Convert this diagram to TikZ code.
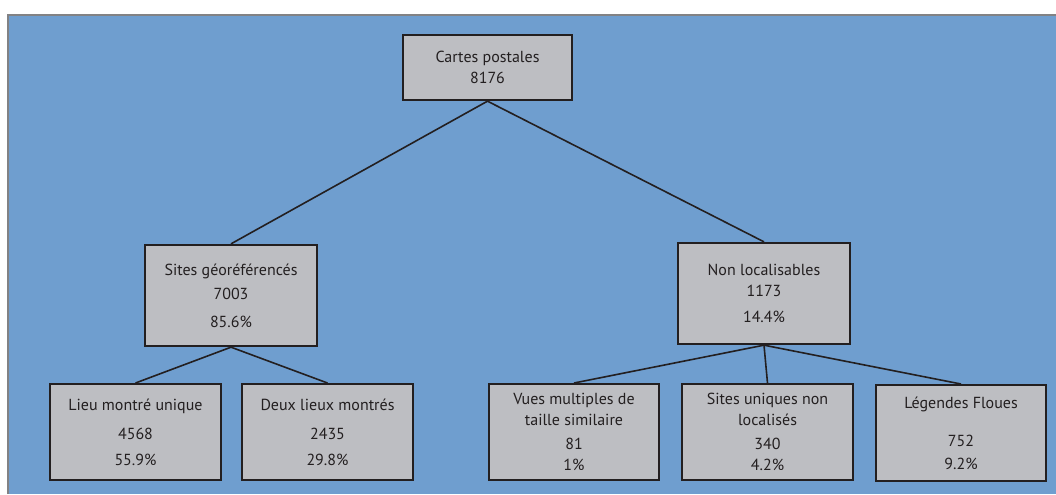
\documentclass[tikz,border=0pt]{standalone}
\usepackage{fontspec}
\setmainfont{PT Sans}
\usepackage{xcolor}
\usetikzlibrary{positioning}
\definecolor{bgblue}{RGB}{111,158,207}
\definecolor{boxgrey}{RGB}{189,190,194}
\definecolor{framegrey}{RGB}{130,130,132}
\definecolor{inkdark}{RGB}{35,31,32}

\begin{document}
\begin{tikzpicture}[x=0.75pt, y=-0.75pt,
  catbox/.style={draw=inkdark, fill=boxgrey, line width=1.5pt, align=center,
    inner sep=0pt, text=inkdark, font=\fontsize{12}{16}\selectfont},
  topbox/.style={catbox, minimum width=127pt, minimum height=49pt},
  midbox/.style={catbox, minimum width=129pt, minimum height=76pt},
  leafbox/.style={catbox, minimum width=128pt, minimum height=72pt},
  link/.style={draw=inkdark, line width=1.2pt}]
\useasboundingbox (0,0) rectangle (1056,494);
\fill[white] (0,0) rectangle (1056,494);
\fill[bgblue] (8,15) rectangle (1056,494);
\draw[framegrey, line width=2pt] (8,494) -- (8,15) -- (1056,15);

\node[topbox] (cartes) at (487.5,67.5) {Cartes postales\\8176};

\node[midbox] (sites) at (231,295.5) {Sites géoréférencés\\[2pt]7003\\[5pt]85.6\%};
\node[midbox] (nonloc) at (764,293.5) {Non localisables\\1173\\[3.5pt]14.4\%};

\node[leafbox] (lieu) at (135.5,432) {Lieu montré unique\\[6pt]4568\\[3.5pt]55.9\%};
\node[leafbox] (deux) at (327.5,432) {Deux lieux montrés\\[6pt]2435\\[3.5pt]29.8\%};
\node[leafbox] (vues) at (574,432) {Vues multiples de\\taille similaire\\[2pt]81\\1\%};
\node[leafbox] (uniq) at (767.5,432) {Sites uniques non\\localisés\\[2pt]340\\4.2\%};
\node[leafbox] (floues) at (961,433) {Légendes Floues\\[13pt]752\\[1pt]9.2\%};

\path[link] (cartes.south) edge (sites.north);
\path[link] (cartes.south) edge (nonloc.north);
\path[link] (sites.south) edge (lieu.north);
\path[link] (sites.south) edge (deux.north);
\path[link] (nonloc.south) edge (vues.north);
\path[link] (nonloc.south) edge (uniq.north);
\path[link] (nonloc.south) edge (floues.north);
\end{tikzpicture}
\end{document}
